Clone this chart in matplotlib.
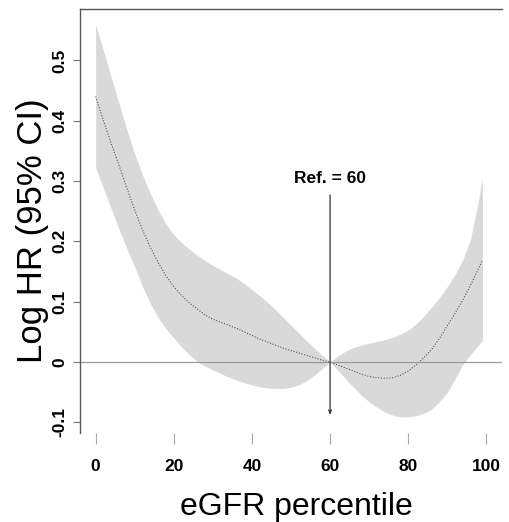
import matplotlib
matplotlib.use("Agg")
import matplotlib.pyplot as plt

plt.rcParams.update({"font.family": ["Liberation Sans", "DejaVu Sans"]})

# eGFR percentile grid and spline estimate with 95% CI
pct = [0, 2, 4, 6, 8, 10, 12, 14, 16, 18, 20, 22, 24, 26, 28, 30, 32, 34, 36, 38,
       40, 42, 44, 46, 48, 50, 52, 54, 56, 58, 60, 62, 64, 66, 68, 70, 72, 74, 76,
       78, 80, 82, 84, 86, 88, 90, 92, 94, 96, 98, 99]
log_hr = [0.440, 0.400, 0.362, 0.326, 0.288, 0.252, 0.219, 0.190, 0.165, 0.143,
          0.125, 0.110, 0.098, 0.088, 0.078, 0.071, 0.066, 0.061, 0.056, 0.050,
          0.044, 0.038, 0.033, 0.028, 0.023, 0.019, 0.015, 0.011, 0.007, 0.003,
          0.0, -0.005, -0.010, -0.015, -0.020, -0.024, -0.026, -0.027, -0.026,
          -0.022, -0.015, -0.005, 0.007, 0.021, 0.039, 0.060, 0.081, 0.103,
          0.128, 0.155, 0.169]
ci_upper = [0.560, 0.516, 0.472, 0.428, 0.385, 0.345, 0.310, 0.279, 0.252, 0.229,
            0.211, 0.198, 0.187, 0.177, 0.168, 0.160, 0.153, 0.146, 0.139, 0.130,
            0.120, 0.110, 0.099, 0.087, 0.074, 0.061, 0.048, 0.035, 0.023, 0.011,
            0.0, 0.010, 0.018, 0.024, 0.028, 0.031, 0.034, 0.037, 0.041, 0.046,
            0.053, 0.063, 0.076, 0.091, 0.107, 0.125, 0.145, 0.170, 0.205, 0.268,
            0.305]
ci_lower = [0.322, 0.288, 0.254, 0.220, 0.188, 0.158, 0.125, 0.097, 0.074, 0.055,
            0.040, 0.025, 0.012, 0.001, -0.007, -0.013, -0.019, -0.025, -0.030,
            -0.034, -0.038, -0.041, -0.043, -0.044, -0.044, -0.042, -0.038, -0.031,
            -0.022, -0.011, 0.0, -0.014, -0.028, -0.042, -0.055, -0.066, -0.075,
            -0.083, -0.088, -0.091, -0.091, -0.089, -0.085, -0.078, -0.066, -0.050,
            -0.028, -0.004, 0.013, 0.028, 0.036]
ref_value = 60
ref_label = "Ref. = 60"
x_ticks = [0, 20, 40, 60, 80, 100]
y_ticks = [-0.1, 0, 0.1, 0.2, 0.3, 0.4, 0.5]
y_tick_labels = ["-0.1", "0", "0.1", "0.2", "0.3", "0.4", "0.5"]

fig = plt.figure(figsize=(5.1, 5.22), dpi=100)
ax = fig.add_axes([80 / 510, 89 / 522, 422 / 510, 424.5 / 522])

ax.fill_between(pct, ci_lower, ci_upper, color="#d9d9d9", lw=0)
ax.plot(pct, log_hr, color="#555555", lw=0.8, ls=(0, (1, 1.5)))
ax.axhline(0, color="#9a9a9a", lw=0.9)
ax.annotate("", xy=(ref_value, -0.088), xytext=(ref_value, 0.277),
            arrowprops=dict(arrowstyle="->,head_length=0.25,head_width=0.1",
                            color="#333333", lw=0.9, shrinkA=0, shrinkB=0))
ax.text(ref_value, 0.305, ref_label, ha="center", va="center",
        fontsize=12.5, fontweight="bold")

ax.set_xlim(-4, 104)
ax.set_ylim(-0.1177, 0.586)

for side in ("right", "bottom"):
    ax.spines[side].set_visible(False)
for side in ("left", "top"):
    ax.spines[side].set_color("#555555")
    ax.spines[side].set_linewidth(1.0)

ax.set_xticks(x_ticks)
ax.set_xticklabels([str(t) for t in x_ticks], fontsize=12.5, fontweight="bold")
ax.tick_params(axis="x", length=8, color="#aaaaaa", pad=11)

ax.set_yticks(y_ticks)
ax.set_yticklabels(y_tick_labels, fontsize=12.5, fontweight="bold")
ax.tick_params(axis="y", length=5, color="#777777", pad=9.5)
for lbl in ax.get_yticklabels():
    lbl.set_rotation(90)
    lbl.set_ha("center")
    lbl.set_va("center")

fig.text(33 / 510, 1 - 231 / 522, "Log HR (95% CI)", rotation=90,
         ha="center", va="center", fontsize=25)
fig.text(296 / 510, 1 - 507 / 522, "eGFR percentile",
         ha="center", va="center", fontsize=23)

fig.savefig("out.png", dpi=100)
